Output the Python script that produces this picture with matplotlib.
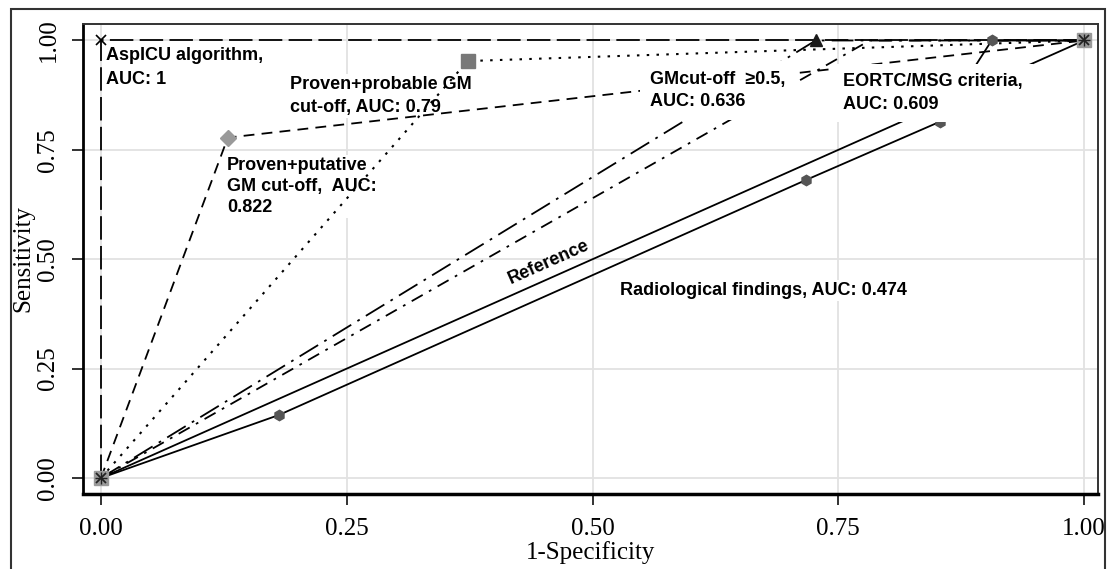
import numpy as np
import matplotlib.pyplot as plt
from matplotlib.patches import Rectangle

# ROC points: (1-specificity, sensitivity)
aspicu_x = [0, 0, 1]
aspicu_y = [0, 1, 1]
putative_x = [0, 0.129, 1]
putative_y = [0, 0.778, 1]
probable_x = [0, 0.373, 1]
probable_y = [0, 0.953, 1]
gm_x = [0, 0.727, 1]
gm_y = [0, 1, 1]
eortc_x = [0, 0.782, 1]
eortc_y = [0, 1, 1]
radio_x = [0, 0.181, 0.717, 0.853, 0.906, 1]
radio_y = [0, 0.144, 0.681, 0.814, 1, 1]
ref_x = [0, 1]
ref_y = [0, 1]
end_x = [0, 1]
end_y = [0, 1]

ticks = [0, 0.25, 0.5, 0.75, 1.0]
tick_labels = ['0.00', '0.25', '0.50', '0.75', '1.00']

sans = ['Liberation Sans', 'DejaVu Sans']
serif = ['Liberation Serif', 'DejaVu Serif']

fig = plt.figure(figsize=(11.2, 5.69), dpi=100)
ax = fig.add_axes([83/1120, 1-494/569, (1098-83)/1120, (494-24)/569])
ax.set_xlim(-0.0183, 1.0142)
ax.set_ylim(-0.0366, 1.0377)

# outer frame of the original graph
fig.patches.append(Rectangle((11/1120, -0.1), (1105-11)/1120, 1-9/569+0.1,
                             transform=fig.transFigure, fill=False,
                             lw=1.5, ec='#333333'))

ax.grid(True, color='#e2e2e2', lw=1.3)
ax.set_axisbelow(True)

lw = 1.3
ax.plot(aspicu_x, aspicu_y, color='black', lw=lw, dashes=[13, 3.5])
ax.plot(aspicu_x[1:2], aspicu_y[1:2], 'x', color='black', ms=7, mew=1.2)

ax.plot(putative_x, putative_y, color='black', lw=lw, dashes=[6, 4])
ax.plot(putative_x[1:2], putative_y[1:2], 'D', color='#9a9a9a', ms=8.5, mec='#9a9a9a')

ax.plot(probable_x, probable_y, color='black', lw=1.5, dashes=[1.2, 3.5])
ax.plot(probable_x[1:2], probable_y[1:2], 's', color='#787878', ms=9.5)

ax.plot(gm_x, gm_y, color='black', lw=lw, dashes=[12, 4, 1.5, 4])
ax.plot(gm_x[1:2], gm_y[1:2], '^', color='#1a1a1a', ms=9)

ax.plot(eortc_x, eortc_y, color='black', lw=lw, dashes=[7, 4, 1.5, 4])

ax.plot(ref_x, ref_y, color='black', lw=lw)

ax.plot(radio_x, radio_y, color='black', lw=lw)
ax.plot(radio_x[1:5], radio_y[1:5], 'h', color='#555555', ms=7.5)

# shared end points
ax.plot(end_x, end_y, 's', color='#9a9a9a', ms=10, zorder=4)
ax.plot(end_x, end_y, 'x', color='#222222', ms=7, mew=1.3, zorder=5)
ax.plot(end_x, end_y, '+', color='#222222', ms=8, mew=1.0, zorder=5)

box = dict(facecolor='white', edgecolor='none', pad=1.5)
fs = 13
ax.text(0.005, 0.985, 'AspICU algorithm,\nAUC: 1', family=sans, weight='bold',
        fontsize=fs, ha='left', va='top', linespacing=1.5, zorder=1.5, bbox=box)
ax.text(0.192, 0.918, 'Proven+probable GM\ncut-off, AUC: 0.79', family=sans,
        weight='bold', fontsize=fs, ha='left', va='top', linespacing=1.4,
        zorder=1.5, bbox=box)
ax.text(0.128, 0.733, 'Proven+putative\nGM cut-off,  AUC:\n0.822', family=sans,
        weight='bold', fontsize=fs, ha='left', va='top', linespacing=1.3,
        zorder=1.5, bbox=box)
ax.text(0.558, 0.93, 'GMcut-off  \u22650.5,\nAUC: 0.636', family=sans,
        weight='bold', fontsize=fs, ha='left', va='top', linespacing=1.4,
        zorder=3, bbox=dict(facecolor='white', edgecolor='none', pad=7))
ax.text(0.755, 0.925, 'EORTC/MSG criteria,\nAUC: 0.609', family=sans,
        weight='bold', fontsize=fs, ha='left', va='top', linespacing=1.4,
        zorder=3, bbox=dict(facecolor='white', edgecolor='none', pad=7))
ax.text(0.528, 0.448, 'Radiological findings, AUC: 0.474', family=sans,
        weight='bold', fontsize=fs, ha='left', va='top', zorder=1.5, bbox=box)
ax.text(0.455, 0.494, 'Reference', family=sans, weight='bold', fontsize=fs,
        ha='center', va='center', rotation=24, zorder=1.5)

ax.set_xticks(ticks)
ax.set_xticklabels(tick_labels, family=serif, fontsize=18)
ax.set_yticks(ticks)
ax.set_yticklabels(tick_labels, family=serif, fontsize=18, rotation=90, va='center')
ax.tick_params(direction='out', length=8, width=1.3, color='#222222')
ax.tick_params(axis='x', pad=9)
ax.tick_params(axis='y', pad=9)

ax.set_xlabel('1-Specificity', family=serif, fontsize=18, labelpad=1)
ax.set_ylabel('Sensitivity', family=serif, fontsize=18, labelpad=2)

for side in ['top', 'right']:
    ax.spines[side].set_linewidth(1.4)
    ax.spines[side].set_color('#333333')
ax.spines['left'].set_linewidth(2)
ax.spines['bottom'].set_linewidth(2.5)

fig.savefig('out.png', dpi=100)
